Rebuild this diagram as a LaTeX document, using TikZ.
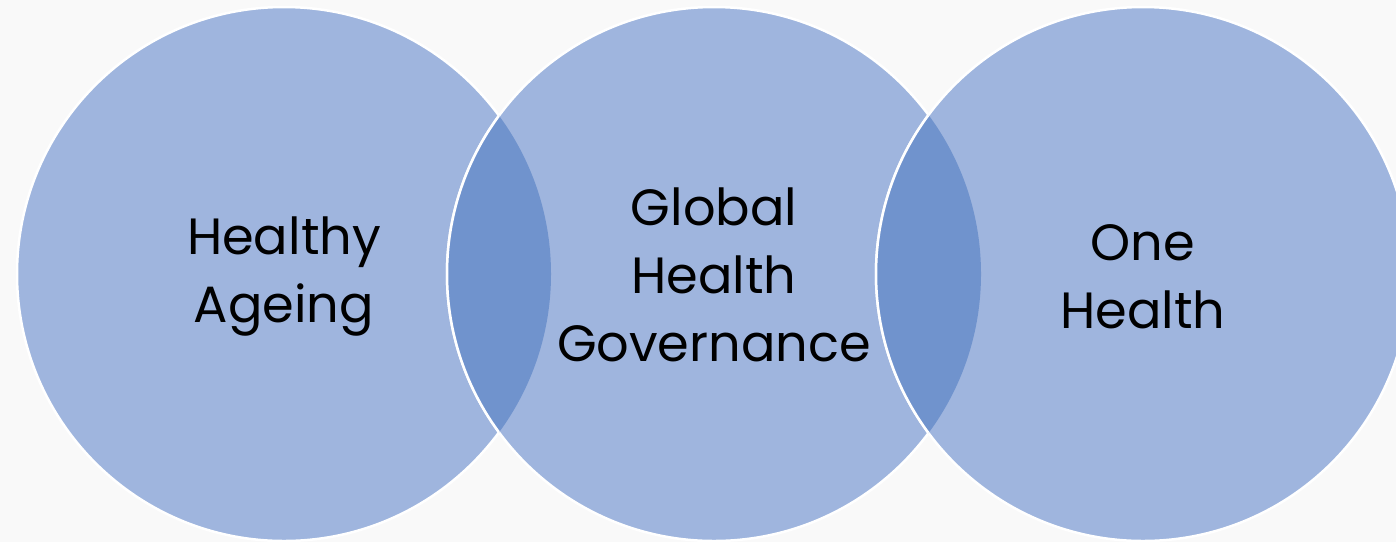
\documentclass[tikz,border=0pt]{standalone}
\usepackage{fontspec}
\setmainfont{Poppins}
\definecolor{bg}{HTML}{F9F9F9}
\definecolor{lite}{HTML}{9FB5DE}
\definecolor{dark}{HTML}{7093CD}
\tikzset{
  venn/.style={fill=lite, draw=white, line width=2.5pt},
  lab/.style={align=center, font=\fontsize{51}{68}\selectfont, text=black, inner sep=0pt}
}
\begin{document}
\begin{tikzpicture}[x=1pt,y=-1pt]
\fill[bg] (0,0) rectangle (1396,542);
\useasboundingbox (0,0) rectangle (1396,542);
\begin{scope}
\clip (0,0) rectangle (1396,542);
\coordinate (c1) at (284,274);
\coordinate (c2) at (714,274);
\coordinate (c3) at (1143,274);
\path[venn] (c1) circle (267);
\path[venn] (c2) circle (267);
\path[venn] (c3) circle (267);
\begin{scope}
  \clip (c1) circle (267);
  \fill[dark] (c2) circle (267);
  \draw[white, line width=2.5pt] (c2) circle (267);
\end{scope}
\begin{scope}
  \clip (c2) circle (267);
  \fill[dark] (c3) circle (267);
  \draw[white, line width=2.5pt] (c3) circle (267);
\end{scope}
\end{scope}
\node[lab] (t1) at (284,277) {Healthy\\Ageing};
\node[lab] (t2) at (714,275) {Global\\Health\\Governance};
\node[lab] (t3) at (1143,277) {One\\Health};
\end{tikzpicture}
\end{document}
